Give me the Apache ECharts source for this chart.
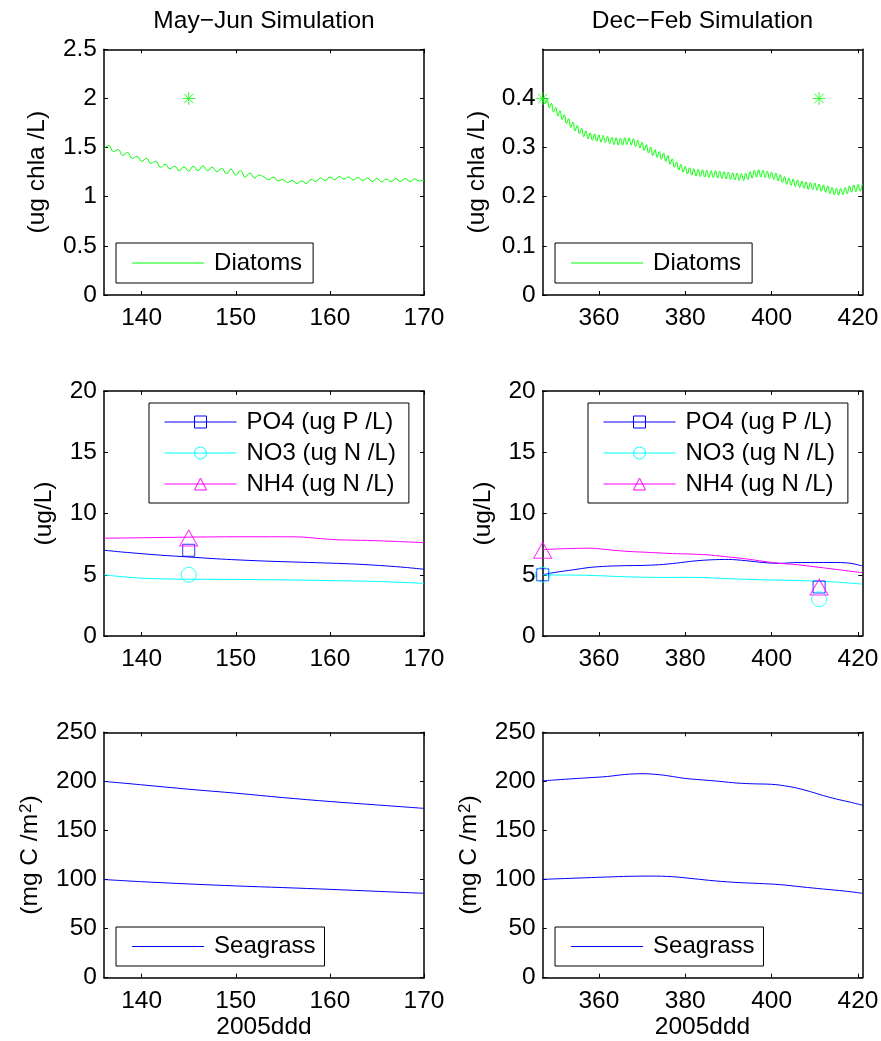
<!DOCTYPE html>
<html><head><meta charset="utf-8">
<script src="https://cdn.jsdelivr.net/npm/echarts@6/dist/echarts.min.js"></script>
<style>html,body{margin:0;padding:0;background:#fff}#c{width:881px;height:1041px}</style>
</head><body><div id="c"></div>
<script>
const FONT = '"Liberation Sans", Helvetica, Arial, sans-serif';

// ---------- ticks ----------
const mayXTicks = [140, 150, 160, 170];
const decXTicks = [360, 380, 400, 420];
const diaMayYTicks = [0, 0.5, 1, 1.5, 2, 2.5];
const diaDecYTicks = [0, 0.1, 0.2, 0.3, 0.4];
const nutYTicks = [0, 5, 10, 15, 20];
const seaYTicks = [0, 50, 100, 150, 200, 250];

// ---------- Diatoms (half-day samples) ----------
const diaMayStart = 136, diaMayStep = 0.5;
const diatomsMay = [
  1.49,1.52,1.46,1.48,1.42,1.45,1.39,1.41,1.36,1.39,
  1.34,1.36,1.30,1.33,1.285,1.31,1.265,1.305,1.26,1.31,
  1.265,1.315,1.265,1.30,1.255,1.29,1.235,1.28,1.22,1.265,
  1.20,1.24,1.19,1.22,1.20,1.175,1.20,1.16,1.175,1.145,
  1.165,1.135,1.16,1.135,1.175,1.155,1.19,1.165,1.20,1.175,
  1.205,1.18,1.20,1.17,1.195,1.165,1.19,1.155,1.185,1.15,
  1.18,1.155,1.185,1.155,1.185,1.155,1.18,1.16,1.17
];
const diaDecStart = 347, diaDecStep = 0.5;
const diatomsDec = [
  0.402,0.389,0.399,0.381,0.390,0.372,0.382,0.364,0.375,0.357,
  0.367,0.349,0.359,0.341,0.352,0.334,0.345,0.328,0.339,0.322,
  0.334,0.318,0.330,0.315,0.328,0.313,0.326,0.311,0.325,0.310,
  0.323,0.308,0.321,0.306,0.320,0.305,0.319,0.305,0.320,0.306,
  0.320,0.305,0.318,0.302,0.315,0.299,0.311,0.294,0.306,0.289,
  0.301,0.284,0.296,0.280,0.292,0.276,0.289,0.272,0.284,0.266,
  0.277,0.260,0.271,0.254,0.266,0.250,0.262,0.246,0.259,0.244,
  0.257,0.242,0.256,0.241,0.255,0.240,0.254,0.239,0.253,0.239,
  0.253,0.238,0.252,0.237,0.251,0.236,0.250,0.235,0.249,0.234,
  0.248,0.233,0.247,0.233,0.248,0.235,0.251,0.238,0.254,0.240,
  0.255,0.240,0.254,0.239,0.252,0.237,0.250,0.235,0.248,0.232,
  0.245,0.229,0.241,0.225,0.238,0.223,0.236,0.221,0.234,0.219,
  0.232,0.217,0.230,0.215,0.229,0.214,0.228,0.213,0.226,0.211,
  0.224,0.209,0.222,0.206,0.219,0.204,0.217,0.203,0.217,0.204,
  0.219,0.206,0.222,0.209,0.224,0.210,0.225,0.211,0.226
];
const diatomsObsMay = [[145, 2.0]];
const diatomsObsDec = [[347, 0.4], [411, 0.4]];

// ---------- Nutrients ----------
const po4MayDays = [136,138,140,142,145,148,150,153,157,160,163,166,168,170];
const po4May     = [7.0,6.85,6.72,6.6,6.45,6.3,6.22,6.12,6.02,5.95,5.86,5.72,5.6,5.45];
const no3MayDays = [136,140,145,150,155,160,165,170];
const no3May     = [4.98,4.72,4.63,4.62,4.58,4.52,4.45,4.3];
const nh4MayDays = [136,140,145,150,155,157,159,161,164,167,170];
const nh4May     = [7.98,8.02,8.07,8.1,8.1,8.08,7.95,7.85,7.8,7.72,7.62];
const po4DecDays = [347,350,354,358,362,366,370,374,378,382,386,390,394,398,402,406,410,414,418,421];
const po4Dec     = [5.0,5.2,5.4,5.6,5.7,5.74,5.76,5.82,5.95,6.12,6.22,6.25,6.15,6.0,5.93,6.0,6.0,6.0,5.95,5.72];
const no3DecDays = [347,355,360,365,370,375,380,385,390,395,400,405,410,415,421];
const no3Dec     = [4.98,4.97,4.92,4.85,4.8,4.78,4.79,4.76,4.68,4.62,4.57,4.54,4.48,4.4,4.24];
const nh4DecDays = [347,350,354,358,362,366,370,374,378,382,386,390,394,398,402,406,410,414,418,421];
const nh4Dec     = [7.05,7.1,7.15,7.17,7.05,6.92,6.85,6.78,6.72,6.68,6.6,6.45,6.3,6.1,5.93,5.82,5.65,5.48,5.3,5.17];
const po4ObsMay = [[145, 7]], no3ObsMay = [[145, 5]], nh4ObsMay = [[145, 8]];
const po4ObsDec = [[347, 5], [411, 4]], no3ObsDec = [[347, 5], [411, 3]], nh4ObsDec = [[347, 7], [411, 4]];

// ---------- Seagrass ----------
const seaMayDays  = [136,140,145,150,155,160,165,170];
const seaMayUpper = [200,196.5,192,188,183.5,179.5,176,172.5];
const seaMayLower = [100,97.8,95.5,93.5,91.8,90,88,86];
const seaDecUpperDays = [347,350,354,358,362,366,370,374,377,380,384,388,392,396,400,403,406,409,412,415,418,421];
const seaDecUpper     = [200.5,201.5,202.7,203.8,205,207,207.8,206.8,205,203,201.5,200,198.3,197.5,197,195.5,193,189.5,185.5,182,179,175.8];
const seaDecLowerDays = [347,352,357,362,367,372,377,382,387,392,397,402,407,412,417,421];
const seaDecLower     = [100.2,101,101.8,102.6,103.3,103.5,102.9,100.8,98.6,97,96,94.8,92.5,90.3,88.2,86];

// ---------- names ----------
const NAMES = { dia: 'Diatoms', po4: 'PO4 (ug P /L)', no3: 'NO3 (ug N /L)', nh4: 'NH4 (ug N /L)', sea: 'Seagrass' };
const C = { green: '#00ff00', blue: '#0000ff', cyan: '#00ffff', magenta: '#ff00ff' };

function seq(start, step, vals) { return vals.map((v, i) => [start + i * step, v]); }
function pairs(days, vals) { return days.map((d, i) => [d, vals[i]]); }

const txt = { fontSize: 24.5, color: '#000', fontFamily: FONT };
const ASTER = 'path://M0,-1L0,1M-1,0L1,0M-0.72,-0.72L0.72,0.72M-0.72,0.72L0.72,-0.72';

const grids = [
  { left: 104,   top: 49.3,  width: 320,   height: 245.7 },
  { left: 542.7, top: 49.3,  width: 319.6, height: 245.7 },
  { left: 104,   top: 391,   width: 320,   height: 245 },
  { left: 542.7, top: 391,   width: 319.6, height: 245 },
  { left: 104,   top: 732.3, width: 320,   height: 245.4 },
  { left: 542.7, top: 732.3, width: 319.6, height: 245.4 }
].map(g => Object.assign({ containLabel: false, outerBoundsMode: 'none' }, g));

const frameLine = { show: true, onZero: false, lineStyle: { color: '#000', width: 1.5 } };
const tick = (vals) => ({ show: true, inside: true, length: 4, customValues: vals, lineStyle: { color: '#000', width: 1 } });
const fmt = v => String(Math.round(v * 1000) / 1000);

const xAxes = [], yAxes = [];
const panels = [
  { xr: [136, 170], xt: mayXTicks, yr: [0, 2.5], yt: diaMayYTicks, yname: '(ug chla /L)', gap: 54, title: 'May\u2212Jun Simulation' },
  { xr: [347, 421], xt: decXTicks, yr: [0, 0.5], yt: diaDecYTicks, yname: '(ug chla /L)', gap: 53, title: 'Dec\u2212Feb Simulation' },
  { xr: [136, 170], xt: mayXTicks, yr: [0, 20], yt: nutYTicks, yname: '(ug/L)', gap: 47 },
  { xr: [347, 421], xt: decXTicks, yr: [0, 20], yt: nutYTicks, yname: '(ug/L)', gap: 47 },
  { xr: [136, 170], xt: mayXTicks, yr: [0, 250], yt: seaYTicks, yname: '(mg C /m{sup|2})', gap: 61, xname: '2005ddd' },
  { xr: [347, 421], xt: decXTicks, yr: [0, 250], yt: seaYTicks, yname: '(mg C /m{sup|2})', gap: 61, xname: '2005ddd' }
];
panels.forEach((p, g) => {
  xAxes.push({
    type: 'value', gridIndex: g, position: 'bottom', min: p.xr[0], max: p.xr[1],
    axisLine: frameLine, axisTick: tick(p.xt), splitLine: { show: false },
    axisLabel: Object.assign({ customValues: p.xt, margin: 11, formatter: fmt, hideOverlap: false }, txt),
    name: p.xname || '', nameLocation: 'middle', nameGap: 37, nameTextStyle: txt
  });
  xAxes.push({
    type: 'value', gridIndex: g, position: 'top', min: p.xr[0], max: p.xr[1],
    axisLine: frameLine, axisTick: tick(p.xt), splitLine: { show: false },
    axisLabel: { show: false },
    name: p.title || '', nameLocation: 'middle', nameGap: 16, nameTextStyle: txt
  });
  yAxes.push({
    type: 'value', gridIndex: g, position: 'left', min: p.yr[0], max: p.yr[1],
    axisLine: frameLine, axisTick: tick(p.yt), splitLine: { show: false },
    axisLabel: Object.assign({ customValues: p.yt, margin: 7, formatter: fmt, hideOverlap: false }, txt),
    name: p.yname, nameLocation: 'middle', nameGap: p.gap,
    nameTextStyle: Object.assign({ rich: { sup: { fontSize: 17, verticalAlign: 'top', fontFamily: FONT, color: '#000', padding: [0, 0, 0, 1] } } }, txt)
  });
  yAxes.push({
    type: 'value', gridIndex: g, position: 'right', min: p.yr[0], max: p.yr[1],
    axisLine: frameLine, axisTick: tick(p.yt), splitLine: { show: false },
    axisLabel: { show: false }
  });
});

const series = [];
function line(g, name, data, color, opts) {
  series.push(Object.assign({
    type: 'line', name, data, xAxisIndex: 2 * g, yAxisIndex: 2 * g,
    symbol: 'none', showSymbol: false, lineStyle: { color, width: 1 },
    itemStyle: { color }, silent: true, animation: false, z: 2
  }, opts || {}));
}
function markLine(g, name, data, color, symbol, size, smooth) {
  line(g, name, data, color, {
    symbol, symbolSize: size, showSymbol: false, smooth,
    itemStyle: { color: 'rgba(0,0,0,0)', borderColor: color, borderWidth: 1 }
  });
}
function obs(g, data, color, symbol, size) {
  series.push({
    type: 'scatter', data, xAxisIndex: 2 * g, yAxisIndex: 2 * g, symbol, symbolSize: size,
    itemStyle: { color: 'rgba(0,0,0,0)', borderColor: color, borderWidth: 1 },
    silent: true, animation: false, z: 3
  });
}

// Diatoms
line(0, NAMES.dia, seq(diaMayStart, diaMayStep, diatomsMay), C.green, { smooth: 0.5 });
obs(0, diatomsObsMay, C.green, ASTER, 13);
line(1, NAMES.dia, seq(diaDecStart, diaDecStep, diatomsDec), C.green, { smooth: 0.4 });
obs(1, diatomsObsDec, C.green, ASTER, 13);

// Nutrients
markLine(2, NAMES.po4, pairs(po4MayDays, po4May), C.blue, 'rect', 12, 0.3);
markLine(2, NAMES.no3, pairs(no3MayDays, no3May), C.cyan, 'circle', 15, 0.3);
markLine(2, NAMES.nh4, pairs(nh4MayDays, nh4May), C.magenta, 'triangle', 15, 0.3);
obs(2, po4ObsMay, C.blue, 'rect', 12);
obs(2, no3ObsMay, C.cyan, 'circle', 15);
obs(2, nh4ObsMay, C.magenta, 'triangle', [18, 16]);
markLine(3, NAMES.po4, pairs(po4DecDays, po4Dec), C.blue, 'rect', 12, 0.3);
markLine(3, NAMES.no3, pairs(no3DecDays, no3Dec), C.cyan, 'circle', 15, 0.3);
markLine(3, NAMES.nh4, pairs(nh4DecDays, nh4Dec), C.magenta, 'triangle', 15, 0.3);
obs(3, po4ObsDec, C.blue, 'rect', 12);
obs(3, no3ObsDec, C.cyan, 'circle', 15);
obs(3, nh4ObsDec, C.magenta, 'triangle', [18, 16]);

// Seagrass
line(4, NAMES.sea, pairs(seaMayDays, seaMayUpper), C.blue, { smooth: 0.3 });
line(4, NAMES.sea, pairs(seaMayDays, seaMayLower), C.blue, { smooth: 0.3 });
line(5, NAMES.sea, pairs(seaDecUpperDays, seaDecUpper), C.blue, { smooth: 0.4 });
line(5, NAMES.sea, pairs(seaDecLowerDays, seaDecLower), C.blue, { smooth: 0.4 });

function legendBox(left, top, names, padding, lineColor) {
  return {
    show: true, orient: 'vertical', left, top, data: names,
    itemWidth: 72, itemHeight: 15, itemGap: 7, padding,
    borderColor: '#000', borderWidth: 1, backgroundColor: '#fff', borderRadius: 0,
    selectedMode: false, z: 10,
    textStyle: { fontSize: 24, color: '#000', fontFamily: FONT, padding: [0, 0, 0, 5] },
    itemStyle: lineColor ? { opacity: 0 } : { borderWidth: 1 },
    lineStyle: lineColor ? { width: 1.2, color: lineColor, opacity: 1 } : { width: 1 }
  };
}
const nut = [NAMES.po4, NAMES.no3, NAMES.nh4];
const legends = [
  legendBox(116, 243, [NAMES.dia], [8, 11, 8, 15.5], C.green),
  legendBox(555, 243, [NAMES.dia], [8, 11, 8, 15.5], C.green),
  legendBox(149, 403, nut, [7, 13, 7, 15]),
  legendBox(588, 403, nut, [7, 13, 7, 15]),
  legendBox(116, 927, [NAMES.sea], [7.5, 9, 7.5, 15.5], C.blue),
  legendBox(555, 927, [NAMES.sea], [7.5, 9, 7.5, 15.5], C.blue)
];

const chart = echarts.init(document.getElementById('c'), null, { renderer: 'canvas' });
chart.setOption({
  backgroundColor: '#fff', animation: false,
  textStyle: { fontFamily: FONT },
  grid: grids, xAxis: xAxes, yAxis: yAxes, legend: legends, series,
  tooltip: { show: false }
});
</script></body></html>
